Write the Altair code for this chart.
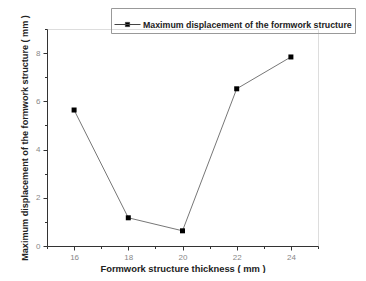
import altair as alt
import pandas as pd

thickness = [16, 18, 20, 22, 24]
displacement = [5.64, 1.17, 0.63, 6.52, 7.84]
series_name = "Maximum displacement of the formwork structure"
x_ticks = list(range(15, 26))
y_ticks = list(range(0, 10))

df = pd.DataFrame({"t": thickness, "d": displacement, "s": [series_name] * len(thickness)})

FONT = "Liberation Sans"

x_axis = alt.Axis(
    values=x_ticks,
    labelExpr="datum.value % 2 == 0 ? datum.label : ''",
    tickSize={"condition": {"test": "datum.value % 2 == 0", "value": 4}, "value": 2.5},
    grid=False, domainColor="#333", tickColor="#333",
    labelColor="#888", labelFontSize=8, labelFont=FONT, labelPadding=3,
    title="Formwork structure thickness ( mm )", titleFont=FONT, titleFontSize=9.4,
    titleFontWeight="bold", titleColor="#222", titlePadding=3,
)
y_axis = alt.Axis(
    values=y_ticks,
    labelExpr="datum.value % 2 == 0 ? datum.label : ''",
    tickSize={"condition": {"test": "datum.value % 2 == 0", "value": 4}, "value": 2.5},
    grid=False, domainColor="#333", tickColor="#333",
    labelColor="#888", labelFontSize=8, labelFont=FONT, labelPadding=3,
    title="Maximum displacement of the formwork structure ( mm )", titleFont=FONT,
    titleFontSize=9.1, titleFontWeight="bold", titleColor="#222", titlePadding=6,
)

x = alt.X("t:Q", scale=alt.Scale(domain=[15, 25], nice=False, zero=False), axis=x_axis)
y = alt.Y("d:Q", scale=alt.Scale(domain=[0, 9], nice=False), axis=y_axis)

line = alt.Chart(df).mark_line(color="#777", strokeWidth=1).encode(x=x, y=y)
points = alt.Chart(df).mark_point(shape="square", filled=True, size=25, opacity=1).encode(
    x=x, y=y,
    color=alt.Color("s:N", scale=alt.Scale(range=["#000"]), legend=alt.Legend(
        title=None, orient="none", legendX=64, legendY=-21,
        symbolType="M-1,0L1,0M-0.16,-0.16L0.16,-0.16L0.16,0.16L-0.16,0.16Z",
        symbolSize=676, symbolStrokeColor="#444", symbolFillColor="#000", symbolStrokeWidth=1,
        labelFont=FONT, labelFontSize=8.8, labelFontWeight="bold", labelColor="#222",
        strokeColor="#999", padding=3, labelOffset=2, labelLimit=400,
    )),
)

chart = alt.layer(line, points).properties(
    width=271, height=217,
    autosize=alt.AutoSizeParams(type="none"),
    padding={"left": 39, "top": 21, "right": 40, "bottom": 27},
).configure_view(stroke=None).configure(background="white")

chart.save("out.html", embed_options={"renderer": "svg", "actions": False})
